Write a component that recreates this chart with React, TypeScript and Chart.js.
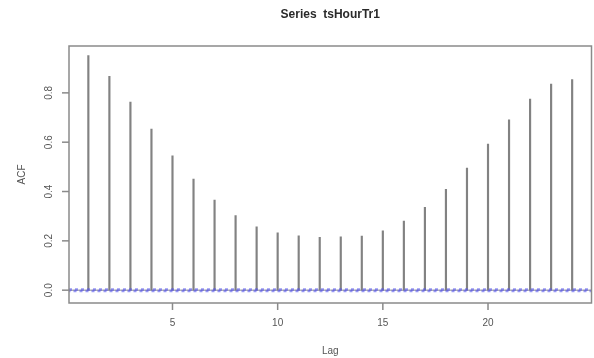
import React, { useEffect, useRef } from "react";
import { Chart, registerables } from "chart.js";

Chart.register(...registerables);

const title = "Series  tsHourTr1";
const xLabel = "Lag";
const yLabel = "ACF";
const lags = [1, 2, 3, 4, 5, 6, 7, 8, 9, 10, 11, 12, 13, 14, 15, 16, 17, 18, 19, 20, 21, 22, 23, 24];
const acfValues = [
  0.951, 0.867, 0.763, 0.653, 0.545, 0.45, 0.365, 0.302, 0.257, 0.233, 0.22, 0.214,
  0.216, 0.219, 0.241, 0.28, 0.336, 0.409, 0.495, 0.592, 0.691, 0.775, 0.836, 0.854,
];
const ciBound = 0.003;
const xTicks = [5, 10, 15, 20];
const yTicks = [0, 0.2, 0.4, 0.6, 0.8];
const yTickLabels = ["0.0", "0.2", "0.4", "0.6", "0.8"];
const xMin = 0.08;
const xMax = 24.92;
const yMin = -0.052;
const yMax = 0.99;

const FONT = '"Liberation Sans", Arial, sans-serif';

const rPlot = {
  id: "rPlot",
  afterDraw(chart: any) {
    const ctx = chart.ctx;
    const { left, right, top, bottom } = chart.chartArea;
    const xs = chart.scales.x;
    const ys = chart.scales.y;
    ctx.save();
    // box
    ctx.strokeStyle = "#8a8a8a";
    ctx.lineWidth = 1.5;
    ctx.strokeRect(left, top, right - left, bottom - top);
    // x ticks
    ctx.fillStyle = "#555";
    ctx.font = "10px " + FONT;
    ctx.textAlign = "center";
    ctx.textBaseline = "middle";
    xTicks.forEach((t) => {
      const px = xs.getPixelForValue(t);
      ctx.beginPath();
      ctx.moveTo(px, bottom);
      ctx.lineTo(px, bottom + 7);
      ctx.stroke();
      ctx.fillText(String(t), px, bottom + 20);
    });
    // y ticks
    yTicks.forEach((t, i) => {
      const py = ys.getPixelForValue(t);
      ctx.beginPath();
      ctx.moveTo(left - 7, py);
      ctx.lineTo(left, py);
      ctx.stroke();
      ctx.save();
      ctx.translate(left - 20, py);
      ctx.rotate(-Math.PI / 2);
      ctx.fillText(yTickLabels[i], 0, 0);
      ctx.restore();
    });
    // axis titles
    ctx.fillText(xLabel, (left + right) / 2, bottom + 48);
    ctx.save();
    ctx.translate(22, (top + bottom) / 2);
    ctx.rotate(-Math.PI / 2);
    ctx.fillText(yLabel, 0, 0);
    ctx.restore();
    // main title
    ctx.fillStyle = "#2a2a2a";
    ctx.font = "bold 12px " + FONT;
    ctx.fillText(title, (left + right) / 2, 15);
    ctx.restore();
  },
};

export default function App() {
  const ref = useRef<HTMLCanvasElement | null>(null);
  useEffect(() => {
    if (!ref.current) return;
    const chart = new Chart(ref.current, {
      type: "bar",
      data: {
        datasets: [
          {
            type: "line",
            data: [
              { x: xMin, y: 0 },
              { x: xMax, y: 0 },
            ],
            borderColor: "#8a8a8a",
            borderWidth: 1,
            pointRadius: 0,
            order: 3,
          } as any,
          {
            type: "bar",
            data: lags.map((l, i) => ({ x: l, y: acfValues[i] })),
            backgroundColor: "#828282",
            barThickness: 1.5,
            order: 2,
          } as any,
          {
            type: "line",
            data: [
              { x: xMin, y: ciBound },
              { x: xMax, y: ciBound },
            ],
            borderColor: "rgba(85,85,235,0.6)",
            borderWidth: 2.5,
            borderDash: [3, 3],
            pointRadius: 0,
            order: 1,
          } as any,
          {
            type: "line",
            data: [
              { x: xMin, y: -ciBound },
              { x: xMax, y: -ciBound },
            ],
            borderColor: "rgba(85,85,235,0.6)",
            borderWidth: 2.5,
            borderDash: [3, 3],
            borderDashOffset: 1.5,
            pointRadius: 0,
            order: 1,
          } as any,
        ],
      },
      options: {
        animation: false,
        responsive: true,
        maintainAspectRatio: false,
        layout: { padding: { left: 69, right: 2.5, top: 46, bottom: 55 } },
        plugins: { legend: { display: false }, tooltip: { enabled: false }, title: { display: false } },
        scales: {
          x: { type: "linear", min: xMin, max: xMax, display: false, offset: false },
          y: { type: "linear", min: yMin, max: yMax, display: false },
        },
      },
      plugins: [rPlot],
    });
    return () => chart.destroy();
  }, []);
  return (
    <div style={{ position: "fixed", left: 0, top: 0, width: 594, height: 358, background: "#fff" }}>
      <canvas ref={ref} />
    </div>
  );
}
